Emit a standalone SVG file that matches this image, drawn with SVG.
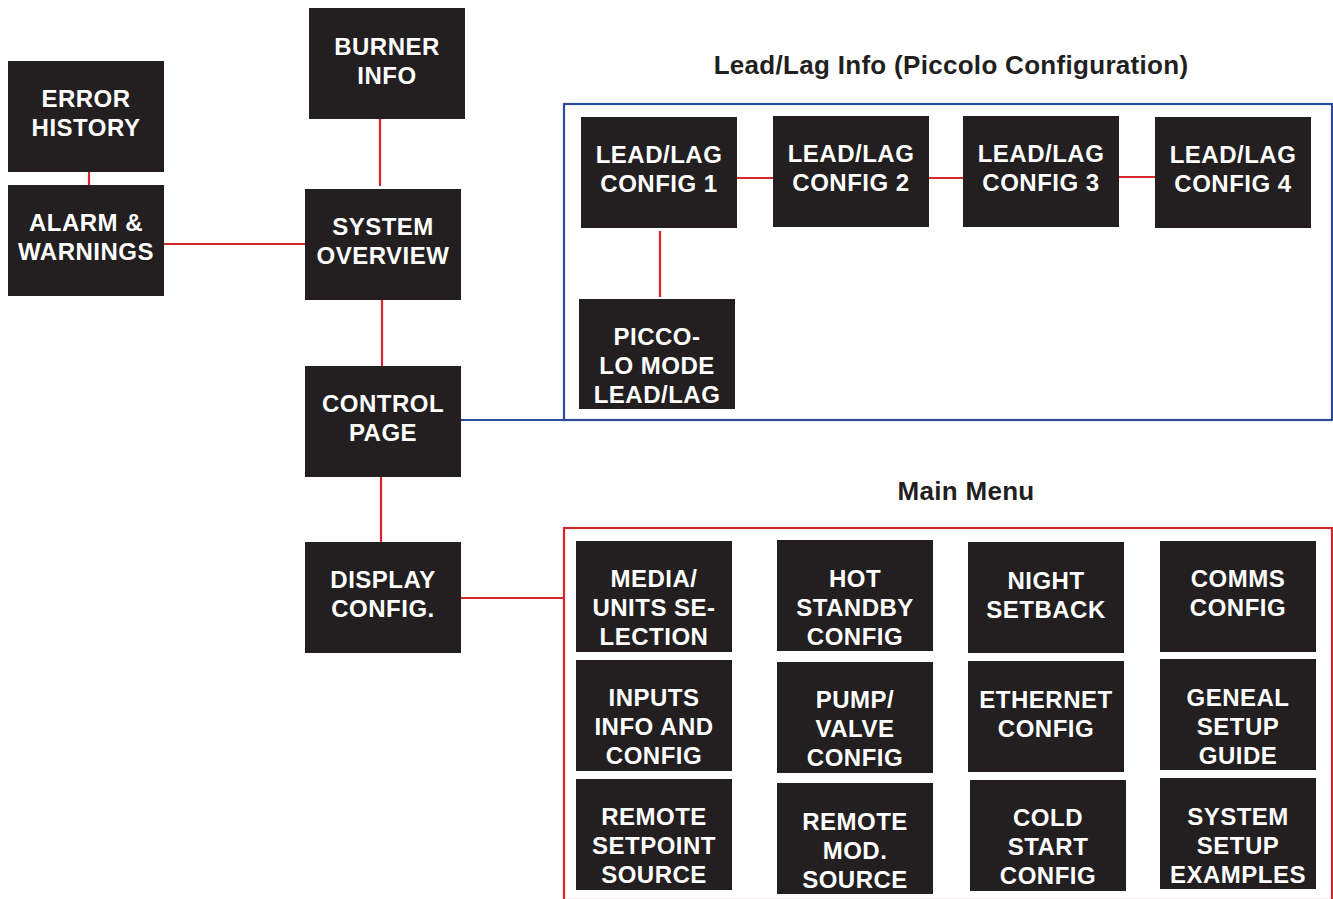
<svg xmlns="http://www.w3.org/2000/svg" width="1333" height="899" viewBox="0 0 1333 899">
<style>
.n rect{fill:#231f20}
.n text{fill:#ffffff;font-family:"Liberation Sans",Arial,sans-serif;font-weight:bold;font-size:24px;letter-spacing:0.5px;text-anchor:middle}
.r{stroke:#d7262d;stroke-width:2.2;fill:none}
.b{stroke:#2e4b9b;stroke-width:2.2;fill:none}
.t{fill:#231f20;font-family:"Liberation Sans",Arial,sans-serif;font-weight:bold;font-size:26px;letter-spacing:0.3px;text-anchor:middle}
</style>
<rect width="1333" height="899" fill="#ffffff"/>
<g id="frames">
<rect class="b" x="564" y="104" width="768" height="316"/>
<rect class="r" x="564" y="528" width="768" height="372"/>
</g>
<text class="t" x="951" y="74">Lead/Lag Info (Piccolo Configuration)</text>
<text class="t" x="966" y="500">Main Menu</text>
<g id="connectors">
<path class="r" d="M89 172V185"/>
<path class="r" d="M164 244H305"/>
<path class="r" d="M380 119V186"/>
<path class="r" d="M382 300V366"/>
<path class="r" d="M381 477V542"/>
<path class="b" d="M461 420H564"/>
<path class="r" d="M461 598H564"/>
<path class="r" d="M737 178H773"/>
<path class="r" d="M929 178H963"/>
<path class="r" d="M1119 177H1155"/>
<path class="r" d="M660 231V297"/>
</g>
<g id="error-history" class="n"><rect x="8" y="61" width="156" height="111"/><text x="86" y="107"><tspan x="86">ERROR</tspan><tspan x="86" dy="29">HISTORY</tspan></text></g>
<g id="alarm-warnings" class="n"><rect x="8" y="185" width="156" height="111"/><text x="86" y="231"><tspan x="86">ALARM &amp;</tspan><tspan x="86" dy="29">WARNINGS</tspan></text></g>
<g id="burner-info" class="n"><rect x="309" y="8" width="156" height="111"/><text x="387" y="55"><tspan x="387">BURNER</tspan><tspan x="387" dy="29">INFO</tspan></text></g>
<g id="system-overview" class="n"><rect x="305" y="189" width="156" height="111"/><text x="383" y="235"><tspan x="383">SYSTEM</tspan><tspan x="383" dy="29">OVERVIEW</tspan></text></g>
<g id="control-page" class="n"><rect x="305" y="366" width="156" height="111"/><text x="383" y="412"><tspan x="383">CONTROL</tspan><tspan x="383" dy="29">PAGE</tspan></text></g>
<g id="display-config" class="n"><rect x="305" y="542" width="156" height="111"/><text x="383" y="588"><tspan x="383">DISPLAY</tspan><tspan x="383" dy="29">CONFIG.</tspan></text></g>
<g id="ll1" class="n"><rect x="581" y="117" width="156" height="111"/><text x="659" y="163"><tspan x="659">LEAD/LAG</tspan><tspan x="659" dy="29">CONFIG 1</tspan></text></g>
<g id="ll2" class="n"><rect x="773" y="116" width="156" height="111"/><text x="851" y="162"><tspan x="851">LEAD/LAG</tspan><tspan x="851" dy="29">CONFIG 2</tspan></text></g>
<g id="ll3" class="n"><rect x="963" y="116" width="156" height="111"/><text x="1041" y="162"><tspan x="1041">LEAD/LAG</tspan><tspan x="1041" dy="29">CONFIG 3</tspan></text></g>
<g id="ll4" class="n"><rect x="1155" y="117" width="156" height="111"/><text x="1233" y="163"><tspan x="1233">LEAD/LAG</tspan><tspan x="1233" dy="29">CONFIG 4</tspan></text></g>
<g id="piccolo" class="n"><rect x="579" y="299" width="156" height="110"/><text x="657" y="345"><tspan x="657">PICCO-</tspan><tspan x="657" dy="29">LO MODE</tspan><tspan x="657" dy="29">LEAD/LAG</tspan></text></g>
<g id="media" class="n"><rect x="576" y="541" width="156" height="111"/><text x="654" y="587"><tspan x="654">MEDIA/</tspan><tspan x="654" dy="29">UNITS SE-</tspan><tspan x="654" dy="29">LECTION</tspan></text></g>
<g id="hot-standby" class="n"><rect x="777" y="540" width="156" height="111"/><text x="855" y="587"><tspan x="855">HOT</tspan><tspan x="855" dy="29">STANDBY</tspan><tspan x="855" dy="29">CONFIG</tspan></text></g>
<g id="night-setback" class="n"><rect x="968" y="542" width="156" height="111"/><text x="1046" y="589"><tspan x="1046">NIGHT</tspan><tspan x="1046" dy="29">SETBACK</tspan></text></g>
<g id="comms" class="n"><rect x="1160" y="541" width="156" height="111"/><text x="1238" y="587"><tspan x="1238">COMMS</tspan><tspan x="1238" dy="29">CONFIG</tspan></text></g>
<g id="inputs" class="n"><rect x="576" y="660" width="156" height="111"/><text x="654" y="706"><tspan x="654">INPUTS</tspan><tspan x="654" dy="29">INFO AND</tspan><tspan x="654" dy="29">CONFIG</tspan></text></g>
<g id="pump" class="n"><rect x="777" y="662" width="156" height="111"/><text x="855" y="708"><tspan x="855">PUMP/</tspan><tspan x="855" dy="29">VALVE</tspan><tspan x="855" dy="29">CONFIG</tspan></text></g>
<g id="ethernet" class="n"><rect x="968" y="661" width="156" height="111"/><text x="1046" y="708"><tspan x="1046">ETHERNET</tspan><tspan x="1046" dy="29">CONFIG</tspan></text></g>
<g id="geneal" class="n"><rect x="1160" y="659" width="156" height="111"/><text x="1238" y="706"><tspan x="1238">GENEAL</tspan><tspan x="1238" dy="29">SETUP</tspan><tspan x="1238" dy="29">GUIDE</tspan></text></g>
<g id="remote-setpoint" class="n"><rect x="576" y="779" width="156" height="111"/><text x="654" y="825"><tspan x="654">REMOTE</tspan><tspan x="654" dy="29">SETPOINT</tspan><tspan x="654" dy="29">SOURCE</tspan></text></g>
<g id="remote-mod" class="n"><rect x="777" y="783" width="156" height="111"/><text x="855" y="830"><tspan x="855">REMOTE</tspan><tspan x="855" dy="29">MOD.</tspan><tspan x="855" dy="29">SOURCE</tspan></text></g>
<g id="cold-start" class="n"><rect x="970" y="780" width="156" height="111"/><text x="1048" y="826"><tspan x="1048">COLD</tspan><tspan x="1048" dy="29">START</tspan><tspan x="1048" dy="29">CONFIG</tspan></text></g>
<g id="system-setup" class="n"><rect x="1160" y="778" width="156" height="111"/><text x="1238" y="825"><tspan x="1238">SYSTEM</tspan><tspan x="1238" dy="29">SETUP</tspan><tspan x="1238" dy="29">EXAMPLES</tspan></text></g>
</svg>
